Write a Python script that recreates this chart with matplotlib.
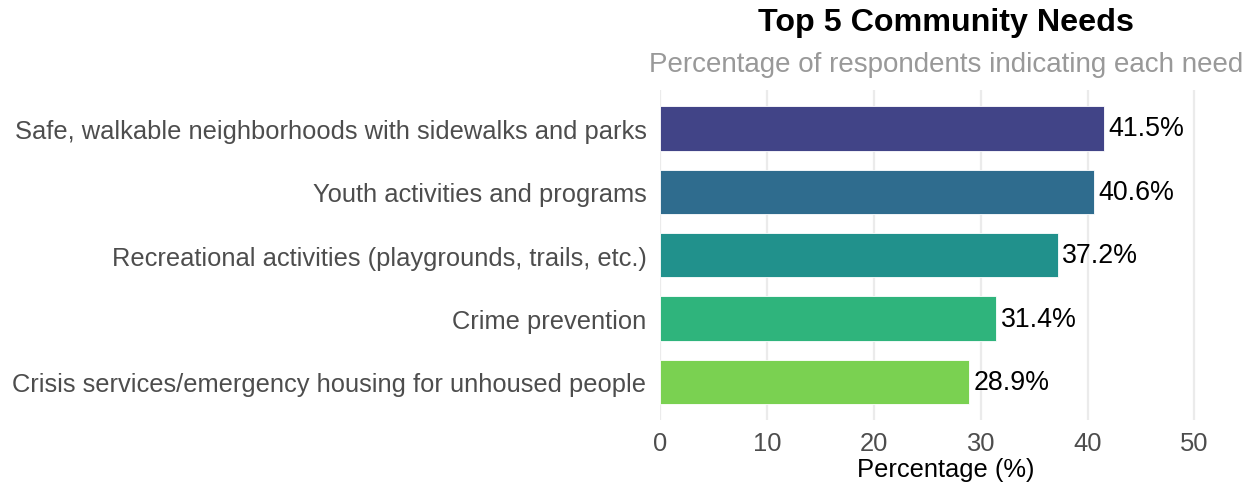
import matplotlib
matplotlib.use("Agg")
import matplotlib.pyplot as plt
import numpy as np

plt.rcParams['font.family'] = ['Liberation Sans', 'DejaVu Sans']

needs = [
    "Safe, walkable neighborhoods with sidewalks and parks",
    "Youth activities and programs",
    "Recreational activities (playgrounds, trails, etc.)",
    "Crime prevention",
    "Crisis services/emergency housing for unhoused people",
]
percentages = [41.5, 40.6, 37.2, 31.4, 28.9]
x_ticks = [0, 10, 20, 30, 40, 50]

cmap = matplotlib.colormaps['viridis']
colors = [cmap(v) for v in np.linspace(0.2, 0.8, len(needs))]

fig = plt.figure(figsize=(12.53, 4.89), dpi=100)
ax = fig.add_axes([0.527, 0.139, 0.456, 0.674])

ypos = np.arange(len(needs))[::-1]
ax.barh(ypos, percentages, height=0.7, color=colors, edgecolor='white', linewidth=0.6, zorder=2)
for y, v in zip(ypos, percentages):
    ax.text(v + 0.45, y, f"{v}%", va='center', ha='left', fontsize=19.3, color='black', zorder=3)

ax.set_xlim(0, 53.5)
ax.set_ylim(-0.6, len(needs) - 0.4)
ax.set_xticks(x_ticks)
ax.set_yticks(ypos)
ax.set_yticklabels(needs)
ax.tick_params(axis='both', length=0, labelsize=18.4, labelcolor='#4D4D4D')
ax.tick_params(axis='y', pad=10)
ax.tick_params(axis='x', pad=8)
ax.grid(axis='x', color='#EBEBEB', linewidth=1.6, zorder=0)
ax.grid(axis='y', visible=False)
for s in ax.spines.values():
    s.set_visible(False)
ax.set_xlabel("Percentage (%)", fontsize=18.4, color='black', labelpad=1)

fig.text(0.755, 0.953, "Top 5 Community Needs", ha='center', va='center', fontsize=23.2, fontweight='bold', color='black')
fig.text(0.755, 0.867, "Percentage of respondents indicating each need", ha='center', va='center', fontsize=20, color='#999999')

fig.savefig("out.png", dpi=100, facecolor='white')
